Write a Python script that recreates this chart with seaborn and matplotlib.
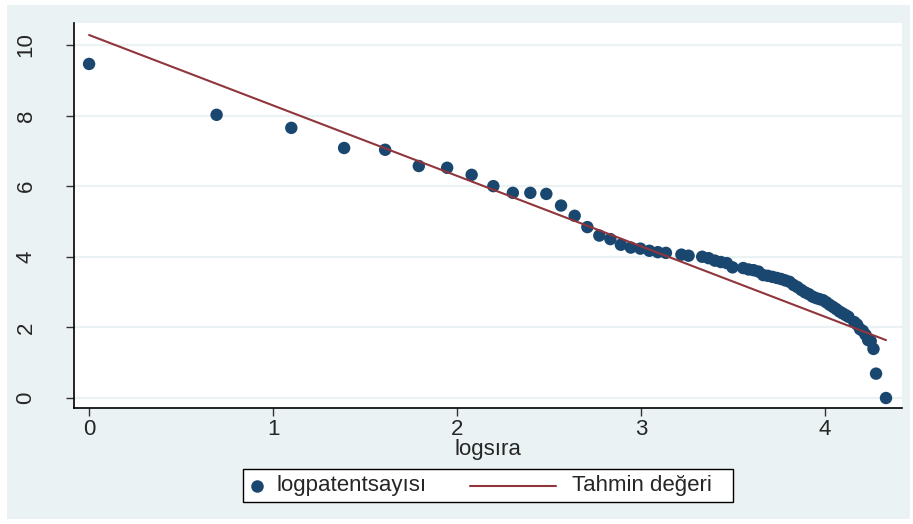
import numpy as np
import pandas as pd
import seaborn as sns
import matplotlib.pyplot as plt
from matplotlib.patches import Rectangle
from matplotlib.lines import Line2D

# log of rank (x) and log of patent count (y)
logsira = [0.000, 0.693, 1.099, 1.386, 1.609, 1.792, 1.946, 2.079, 2.197, 2.303,
           2.398, 2.485, 2.565, 2.639, 2.708, 2.773, 2.833, 2.890, 2.944, 2.996,
           3.045, 3.091, 3.135, 3.219, 3.258, 3.332, 3.367, 3.401, 3.434, 3.466,
           3.497, 3.555, 3.584, 3.611, 3.638, 3.664, 3.689, 3.714, 3.738, 3.761,
           3.784, 3.807, 3.829, 3.850, 3.871, 3.892, 3.912, 3.932, 3.951, 3.970,
           3.989, 4.007, 4.025, 4.043, 4.060, 4.078, 4.094, 4.111, 4.127, 4.159,
           4.174, 4.190, 4.205, 4.220, 4.234, 4.248, 4.263, 4.277, 4.331]
logpatent = [9.46, 8.02, 7.65, 7.08, 7.03, 6.57, 6.52, 6.32, 6.00, 5.81,
             5.81, 5.78, 5.45, 5.16, 4.84, 4.60, 4.50, 4.34, 4.26, 4.23,
             4.17, 4.13, 4.11, 4.06, 4.03, 4.00, 3.96, 3.89, 3.85, 3.82,
             3.70, 3.68, 3.64, 3.62, 3.58, 3.48, 3.46, 3.43, 3.40, 3.37,
             3.33, 3.29, 3.20, 3.14, 3.06, 2.99, 2.94, 2.87, 2.83, 2.80,
             2.77, 2.71, 2.64, 2.58, 2.52, 2.45, 2.40, 2.35, 2.30, 2.15,
             2.08, 1.95, 1.90, 1.79, 1.64, 1.61, 1.39, 0.69, 0.00]

# fitted regression line (Tahmin degeri)
fit_intercept = 10.28
fit_slope = -1.995

x_ticks = [0, 1, 2, 3, 4]
y_ticks = [0, 2, 4, 6, 8, 10]
legend_labels = ["logpatentsayısı", "Tahmin değeri"]

df = pd.DataFrame({"logsira": logsira, "logpatent": logpatent})
df["tahmin"] = fit_intercept + fit_slope * df["logsira"]

navy = "#1A476F"
maroon = "#90353B"
bg = "#EAF2F3"
W, H = 913, 524

sns.set_theme(style="white")
plt.rcParams["font.family"] = ["Liberation Sans", "DejaVu Sans"]

fig = plt.figure(figsize=(W / 100, H / 100), dpi=100, facecolor="white")
fig.patches.append(Rectangle((7 / W, 1 - 519 / H), 903 / W, 514 / H,
                             transform=fig.transFigure, facecolor=bg,
                             edgecolor="none", zorder=-10))
ax = fig.add_axes([74 / W, 1 - 408 / H, 828 / W, 385 / H])
ax.set_facecolor("white")

for yv in y_ticks:
    ax.axhline(yv, color=bg, lw=1.6, zorder=0)

sns.scatterplot(data=df, x="logsira", y="logpatent", ax=ax, color=navy,
                s=80, edgecolor="none", zorder=3, legend=False)
sns.lineplot(data=df, x="logsira", y="tahmin", ax=ax, color=maroon,
             lw=1.5, zorder=4, legend=False)

ax.set_xlim(-0.082, 4.418)
ax.set_ylim(-0.283, 10.62)
ax.set_xticks(x_ticks)
ax.set_yticks(y_ticks)
ax.set_xticklabels([str(v) for v in x_ticks], fontsize=16)
ax.set_yticklabels([str(v) for v in y_ticks], fontsize=16, rotation=90, va="center")
ax.tick_params(axis="x", direction="out", length=6, width=1, color="#333333",
               bottom=True, pad=2)
ax.tick_params(axis="y", direction="out", length=6, width=1, color="#333333",
               left=True, pad=21)
ax.set_xlabel("logsıra", fontsize=16, labelpad=-1)
ax.set_ylabel("")

for side in ["top", "right"]:
    ax.spines[side].set_visible(False)
for side in ["left", "bottom"]:
    ax.spines[side].set_color("black")
    ax.spines[side].set_linewidth(1.2)

# legend box drawn by hand (Stata layout: dot close to label, long line key)
fig.patches.append(Rectangle((243 / W, 1 - 502 / H), 490 / W, 33 / H,
                             transform=fig.transFigure, facecolor="white",
                             edgecolor="black", lw=1.0, zorder=5))
ly = 1 - 486 / H
fig.add_artist(Line2D([257 / W], [ly], marker="o", markersize=8, color=navy,
                      linestyle="none", transform=fig.transFigure, zorder=6))
fig.text(276 / W, ly, legend_labels[0], fontsize=16, va="center", ha="left", zorder=6)
fig.add_artist(Line2D([470 / W, 556 / W], [ly, ly], color=maroon, lw=1.5,
                      transform=fig.transFigure, zorder=6))
fig.text(572 / W, ly, legend_labels[1], fontsize=16, va="center", ha="left", zorder=6)

fig.savefig("out.png", dpi=100, facecolor="white")
